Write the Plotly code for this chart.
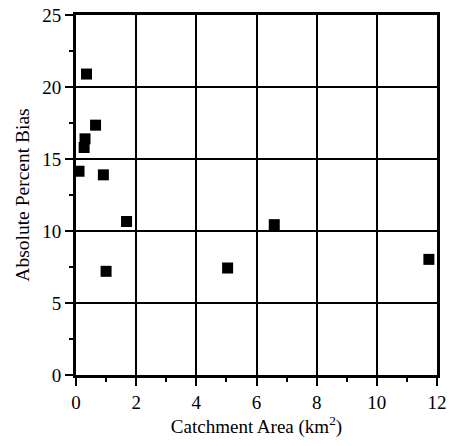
import plotly.graph_objects as go

# Catchment area (km^2) and absolute percent bias for each catchment
catchment_area = [0.10, 0.27, 0.30, 0.35, 0.65, 0.91, 1.0, 1.68, 5.04, 6.59, 11.73]
abs_percent_bias = [14.15, 15.8, 16.4, 20.9, 17.35, 13.9, 7.2, 10.66, 7.43, 10.44, 8.03]

x_ticks = [0, 2, 4, 6, 8, 10, 12]
y_ticks = [0, 5, 10, 15, 20, 25]

font_family = "Liberation Serif, Times New Roman, serif"

fig = go.Figure(
    go.Scatter(
        x=catchment_area,
        y=abs_percent_bias,
        mode="markers",
        marker=dict(symbol="square", size=11, color="black", line=dict(width=0)),
        hoverinfo="x+y",
    )
)

axis_common = dict(
    showline=True,
    linecolor="black",
    linewidth=3,
    mirror=True,
    showgrid=True,
    gridcolor="black",
    gridwidth=1.5,
    zeroline=False,
    automargin=False,
    ticks="outside",
    ticklen=8,
    tickwidth=2,
    tickcolor="black",
    tickfont=dict(family=font_family, size=19, color="black"),
)

fig.update_xaxes(
    range=[0, 12],
    tickvals=x_ticks,
    ticktext=[str(v) for v in x_ticks],
    minor=dict(dtick=1, ticks="outside", ticklen=4, tickwidth=1.5, tickcolor="black", showgrid=False),
    title=dict(text="Catchment Area (km<sup>2</sup>)", font=dict(family=font_family, size=19, color="black"), standoff=6),
    **axis_common,
)
fig.update_yaxes(
    range=[0, 25],
    tickvals=y_ticks,
    ticktext=[str(v) for v in y_ticks],
    minor=dict(dtick=2.5, ticks="outside", ticklen=4, tickwidth=1.5, tickcolor="black", showgrid=False),
    title=dict(text="Absolute Percent Bias", font=dict(family=font_family, size=19.5, color="black"), standoff=8),
    **axis_common,
)

fig.update_layout(
    width=449,
    height=446,
    margin=dict(l=76, r=12, t=15, b=71),
    plot_bgcolor="white",
    paper_bgcolor="white",
    showlegend=False,
)

fig.write_html("out.html")
